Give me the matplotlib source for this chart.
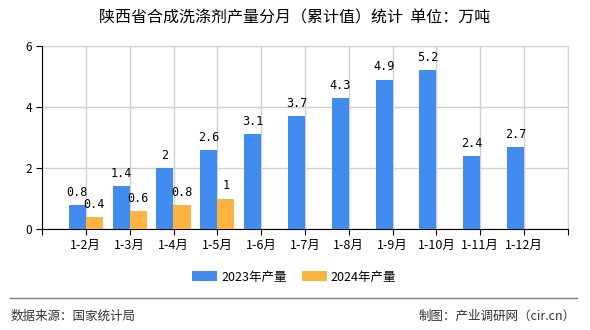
import matplotlib
matplotlib.use('Agg')
import matplotlib.pyplot as plt
import numpy as np

plt.rcParams['font.family'] = ['Noto Sans CJK SC', 'DejaVu Sans']

months = ['1-2月', '1-3月', '1-4月', '1-5月', '1-6月', '1-7月', '1-8月',
          '1-9月', '1-10月', '1-11月', '1-12月']
v2023 = [0.8, 1.4, 2, 2.6, 3.1, 3.7, 4.3, 4.9, 5.2, 2.4, 2.7]
v2024 = [0.4, 0.6, 0.8, 1]
labels2023 = ['0.8', '1.4', '2', '2.6', '3.1', '3.7', '4.3', '4.9', '5.2', '2.4', '2.7']
labels2024 = ['0.4', '0.6', '0.8', '1']

blue = '#418CEE'
orange = '#FCB340'

fig = plt.figure(figsize=(5.9, 3.3), dpi=100)
ax = fig.add_axes([42/590, 1 - 229/330, 526/590, 183/330])

x = np.arange(len(months))
w = 0.39
ax.bar(x - w/2, v2023, w, color=blue, label='2023年产量', zorder=3)
ax.bar(x[:len(v2024)] + w/2, v2024, w, color=orange, label='2024年产量', zorder=3)

for xi, v, t in zip(x, v2023, labels2023):
    ax.text(xi - w/2, v + 0.2, t, ha='center', va='bottom', fontsize=8.5,
            family='DejaVu Sans Mono')
for xi, v, t in zip(x, v2024, labels2024):
    ax.text(xi + w/2, v + 0.2, t, ha='center', va='bottom', fontsize=8.5,
            family='DejaVu Sans Mono')

ax.set_xlim(-1, len(months))
ax.set_ylim(0, 6)
ax.set_yticks([0, 2, 4, 6])
ax.set_xticks(np.arange(-1, len(months) + 1))
ax.set_xticklabels([''] + months + [''])
ax.tick_params(axis='x', labelsize=9, length=4, color='black', pad=3)
ax.tick_params(axis='y', labelsize=8.5, length=4, color='black', pad=3)
ax.grid(True, color='#d0d0d0', linewidth=1, zorder=0)

ax.spines['top'].set_visible(False)
ax.spines['right'].set_color('#d0d0d0')
ax.spines['left'].set_color('black')
ax.spines['bottom'].set_color('black')

fig.text(0.5, 1 - 18/330, '陕西省合成洗涤剂产量分月（累计值）统计  单位：万吨',
         ha='center', va='center', fontsize=11.5)

fig.legend(loc='center', bbox_to_anchor=(294/590, 1 - 277/330), ncol=2, frameon=False,
           fontsize=9, handlelength=2.0, handleheight=0.8, columnspacing=1.2,
           handletextpad=0.3)

fig.add_artist(plt.Line2D([10/590, 577/590], [1 - 298/330, 1 - 298/330],
                          color='#808080', linewidth=1))
fig.text(11/590, 1 - 316/330, '数据来源：国家统计局', ha='left', va='center', fontsize=9,
         color='#333333')
fig.text(576/590, 1 - 316/330, '制图：产业调研网（cir.cn）', ha='right', va='center',
         fontsize=9, color='#333333')

fig.savefig('out.png', dpi=100)
